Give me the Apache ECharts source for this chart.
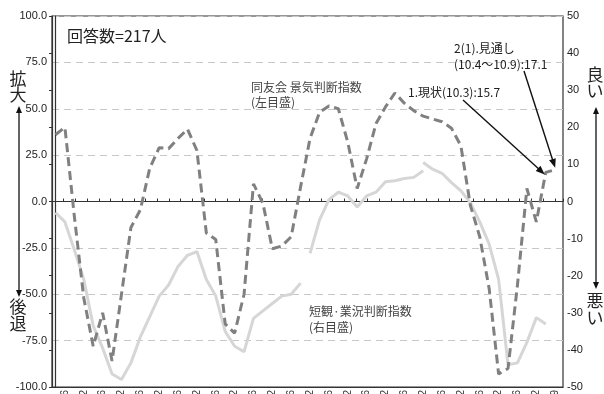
<!DOCTYPE html>
<html><head><meta charset="utf-8">
<script src="https://cdn.jsdelivr.net/npm/echarts@6/dist/echarts.min.js"></script>
<style>html,body{margin:0;padding:0;background:#fff}#c{width:604px;height:394px}</style>
</head><body><div id="c"></div>
<script>
// Quarterly survey dates (yy.m); the last one is the outlook (10.4〜10.9)
const quarterLabels = ["97.3","97.6","97.9","97.12","98.3","98.6","98.9","98.12","99.3","99.6","99.9","99.12",
  "00.3","00.6","00.9","00.12","01.3","01.6","01.9","01.12","02.3","02.6","02.9","02.12",
  "03.3","03.6","03.9","03.12","04.3","04.6","04.9","04.12","05.3","05.6","05.9","05.12",
  "06.3","06.6","06.9","06.12","07.3","07.6","07.9","07.12","08.3","08.6","08.9","08.12",
  "09.3","09.6","09.9","09.12","10.3","10.9"];

// 同友会 景気判断指数 (left scale)
const doyukaiIndex = [36, 40, -8, -52, -78, -60, -86, -50, -14, -4.5, 18, 29, 28.5, 34, 39, 27.5,
  -17, -20.5, -66, -71, -50, 9.5, -1, -25.5, -24, -19, 8, 34, 48, 51.5, 50, 32, 7, 23, 42, 51,
  58.5, 53, 49, 46, 44.5, 43, 39.5, 30, -2, -19, -47, -93, -90, -45, 7, -11, 15.7, 17.1];

// 短観・業況判断指数 (right scale), three sample bases
const tankanOld = [-3, -5.5, -13, -21, -33.5, -39.5, -46.5, -48, -43.5, -36.5, -31, -25.5, -22.5,
  -17.5, -14.5, -13.5, -21, -25.5, -35, -39, -40.5, -31.5, -29.5, -27.5, -25.5, -25, -22];
const tankanOldStart = 0;
const tankanMid = [-14, -5, 0.5, 2.5, 1.5, -1.5, 1.5, 2.5, 5.3, 5.6, 6.2, 6.5, 8.3];
const tankanMidStart = 27;
const tankanNew = [10.5, 8.7, 7.6, 5.1, 2.9, -0.3, -5.5, -11.5, -21, -44, -43.5, -38, -31.3, -33];
const tankanNewStart = 39;

const leftTicks = {min: -100, max: 100, step: 25};
const rightTicks = {min: -50, max: 50, step: 10};

const JP = '"Noto Sans CJK JP", sans-serif';
const NUM = '"Liberation Sans", Arial, sans-serif';

const chart = echarts.init(document.getElementById('c'), null, {renderer: 'canvas'});

const labelIdx = quarterLabels.map((_, i) => i).filter(i => i % 2 === 1);

const toPts = (arr, start) => arr.map((v, j) => [start + j, v]);

const option = {
  animation: false,
  backgroundColor: '#fff',
  grid: {left: 52, right: 41, top: 16, bottom: 7, show: true, borderColor: '#333', borderWidth: 1.2,
    containLabel: false, outerBoundsMode: 'none'},
  xAxis: [
    {
      type: 'value', min: -0.37, max: 53.83, position: 'bottom',
      axisLine: {show: true, onZero: false, lineStyle: {color: '#333', width: 1.2}},
      axisTick: {show: false},
      splitLine: {show: false},
      axisLabel: {
        show: true, customValues: labelIdx, rotate: 90, margin: 3,
        fontSize: 10, color: '#333', fontFamily: NUM,
        formatter: v => quarterLabels[v] || ''
      }
    },
    {
      type: 'value', min: 0, max: 43.7, interval: 1, position: 'bottom',
      axisLine: {show: true, onZero: true, onZeroAxisIndex: 0, lineStyle: {color: '#333', width: 1.2}},
      axisTick: {show: true, inside: true, length: 3, lineStyle: {color: '#333', width: 1}},
      axisLabel: {show: false},
      splitLine: {show: false}
    }
  ],
  yAxis: [
    {
      type: 'value', min: leftTicks.min, max: leftTicks.max, interval: leftTicks.step, position: 'left',
      axisLine: {show: true, lineStyle: {color: '#333', width: 1.2}},
      axisTick: {show: false},
      axisLabel: {formatter: v => v.toFixed(1), fontSize: 11, color: '#222', margin: 5, fontFamily: NUM},
      splitLine: {show: true, lineStyle: {color: '#c8c8c8', width: 1, type: [7, 5]}}
    },
    {
      type: 'value', min: rightTicks.min, max: rightTicks.max, interval: rightTicks.step, position: 'right',
      axisLine: {show: true, lineStyle: {color: '#333', width: 1.2}},
      axisTick: {show: true, inside: true, length: 3, lineStyle: {color: '#333'}},
      axisLabel: {fontSize: 11, color: '#222', margin: 4, fontFamily: NUM},
      splitLine: {show: false}
    }
  ],
  series: [
    {type: 'line', name: 'tankanOld', xAxisIndex: 0, yAxisIndex: 1, data: toPts(tankanOld, tankanOldStart),
      symbol: 'none', z: 2, lineStyle: {color: '#d6d6d6', width: 3}},
    {type: 'line', name: 'tankanMid', xAxisIndex: 0, yAxisIndex: 1, data: toPts(tankanMid, tankanMidStart),
      symbol: 'none', z: 2, lineStyle: {color: '#d6d6d6', width: 3}},
    {type: 'line', name: 'tankanNew', xAxisIndex: 0, yAxisIndex: 1, data: toPts(tankanNew, tankanNewStart),
      symbol: 'none', z: 2, lineStyle: {color: '#d6d6d6', width: 3}},
    {type: 'line', name: 'doyukai', xAxisIndex: 0, yAxisIndex: 0, data: toPts(doyukaiIndex, 0),
      symbol: 'none', z: 3, lineStyle: {color: '#808080', width: 3, type: [9, 5], cap: 'butt'}}
  ]
};
chart.setOption(option);

function arrowHead(tx, ty, fx, fy, len, half) {
  const dx = tx - fx, dy = ty - fy, d = Math.hypot(dx, dy);
  const ux = dx / d, uy = dy / d;
  const bx = tx - ux * len, by = ty - uy * len;
  return {
    type: 'polygon', z: 10, silent: true,
    shape: {points: [[tx, ty], [bx - uy * half, by + ux * half], [bx + uy * half, by - ux * half]]},
    style: {fill: '#111'}
  };
}
function arrow(x1, y1, x2, y2, len, half) {
  const dx = x2 - x1, dy = y2 - y1, d = Math.hypot(dx, dy);
  const ex = x2 - dx / d * (len - 1), ey = y2 - dy / d * (len - 1);
  return [
    {type: 'line', z: 10, silent: true, shape: {x1: x1, y1: y1, x2: ex, y2: ey}, style: {stroke: '#111', lineWidth: 1.4}},
    arrowHead(x2, y2, x1, y1, len, half)
  ];
}
function dblArrow(x, y1, y2) {
  return [
    {type: 'line', z: 10, silent: true, shape: {x1: x, y1: y1 + 5, x2: x, y2: y2 - 5}, style: {stroke: '#111', lineWidth: 1.3}},
    arrowHead(x, y1, x, y2, 7, 3),
    arrowHead(x, y2, x, y1, 7, 3)
  ];
}
function txt(x, y, s, size, color, family, align) {
  return {type: 'text', z: 11, silent: true, x: x, y: y,
    style: {text: s, fontSize: size, fill: color || '#333', fontFamily: family || JP,
      textAlign: align || 'left', textVerticalAlign: 'middle'}};
}

const nowPt = chart.convertToPixel({xAxisIndex: 0, yAxisIndex: 0}, [52, doyukaiIndex[52]]);
const outPt = chart.convertToPixel({xAxisIndex: 0, yAxisIndex: 0}, [53, doyukaiIndex[53]]);

const g = [].concat(
  [txt(67, 36, '回答数=217人', 16, '#222')],
  [txt(251, 87.5, '同友会 景気判断指数', 12, '#444'), txt(251, 102.5, '(左目盛)', 12, '#444')],
  [txt(309, 311, '短観·業況判断指数', 12, '#444'), txt(309, 327.5, '(右目盛)', 12, '#444')],
  [txt(454, 48, '2(1).見通し', 12, '#222'), txt(454, 64, '(10.4〜10.9):17.1', 12, '#222'),
   txt(408, 92, '1.現状(10.3):15.7', 12, '#222')],
  arrow(463, 100, nowPt[0] - 1, nowPt[1] + 2, 9, 3.5),
  arrow(524, 71, outPt[0], outPt[1] - 2, 9, 3.5),
  [txt(18, 79, '拡', 17, '#222', JP, 'center'), txt(18, 95, '大', 17, '#222', JP, 'center'),
   txt(18, 306.5, '後', 17, '#222', JP, 'center'), txt(18, 323.5, '退', 17, '#222', JP, 'center')],
  dblArrow(19, 106, 297),
  [txt(595, 75, '良', 17, '#222', JP, 'center'), txt(595, 91, 'い', 17, '#222', JP, 'center'),
   txt(595, 300.5, '悪', 17, '#222', JP, 'center'), txt(595, 317.5, 'い', 17, '#222', JP, 'center')],
  dblArrow(596, 107, 289)
);
chart.setOption({graphic: g});
</script></body></html>
